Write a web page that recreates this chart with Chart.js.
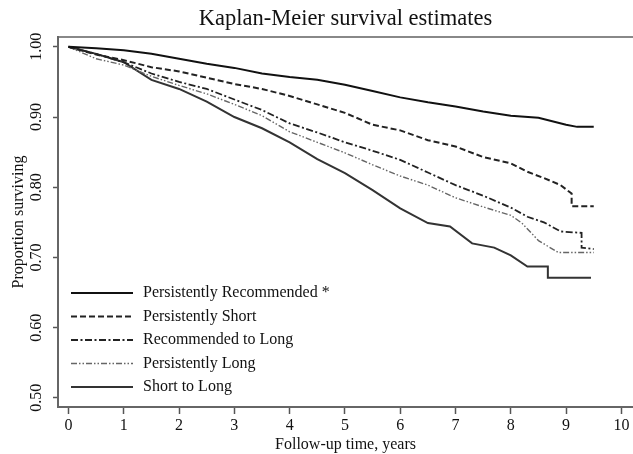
<!DOCTYPE html>
<html>
<head>
<meta charset="utf-8">
<script src="https://cdn.jsdelivr.net/npm/chart.js@4.4.1/dist/chart.umd.min.js"></script>
<style>
  body { margin: 0; background: #fff; }
  #wrap { width: 633px; height: 454px; }
</style>
</head>
<body>
<div id="wrap"><canvas id="km"></canvas></div>
<script>
// series labels
const seriesNames = ['Persistently Recommended *', 'Persistently Short', 'Recommended to Long', 'Persistently Long', 'Short to Long'];

// follow-up times (years) and survival
const recTime  = [0, 0.5, 1, 1.5, 2, 2.5, 3, 3.5, 4, 4.5, 5, 5.5, 6, 6.5, 7, 7.5, 8, 8.5, 9, 9.2, 9.5];
const recSurv  = [1, 0.998, 0.995, 0.99, 0.983, 0.976, 0.97, 0.962, 0.957, 0.953, 0.946, 0.937, 0.928, 0.921, 0.915, 0.908, 0.902, 0.899, 0.889, 0.886, 0.886];

const shortTime = [0, 0.5, 1, 1.5, 2, 2.5, 3, 3.5, 4, 4.5, 5, 5.5, 6, 6.5, 7, 7.5, 8, 8.3, 8.6, 8.9, 9.1, 9.1, 9.5];
const shortSurv = [1, 0.989, 0.981, 0.971, 0.965, 0.956, 0.947, 0.94, 0.93, 0.918, 0.906, 0.889, 0.881, 0.867, 0.858, 0.843, 0.834, 0.822, 0.813, 0.803, 0.791, 0.773, 0.773];

const recLongTime = [0, 0.5, 1, 1.5, 2, 2.5, 3, 3.5, 4, 4.5, 5, 5.5, 6, 6.5, 7, 7.5, 8, 8.3, 8.6, 8.9, 9.28, 9.28, 9.5];
const recLongSurv = [1, 0.99, 0.978, 0.962, 0.95, 0.94, 0.925, 0.91, 0.891, 0.878, 0.864, 0.852, 0.839, 0.821, 0.803, 0.788, 0.771, 0.758, 0.75, 0.737, 0.735, 0.714, 0.712];

const longTime = [0, 0.5, 1, 1.5, 2, 2.5, 3, 3.5, 4, 4.5, 5, 5.5, 6, 6.5, 7, 7.5, 8, 8.2, 8.5, 8.86, 9.5];
const longSurv = [1, 0.983, 0.974, 0.958, 0.945, 0.933, 0.918, 0.902, 0.879, 0.864, 0.849, 0.832, 0.816, 0.803, 0.785, 0.772, 0.76, 0.749, 0.724, 0.707, 0.707];

const s2lTime = [0, 0.5, 1, 1.5, 2, 2.5, 3, 3.5, 4, 4.5, 5, 5.5, 6, 6.5, 6.9, 7.3, 7.7, 8.0, 8.3, 8.67, 8.67, 9.45];
const s2lSurv = [1, 0.99, 0.978, 0.953, 0.94, 0.922, 0.9, 0.884, 0.864, 0.84, 0.82, 0.796, 0.77, 0.749, 0.744, 0.72, 0.714, 0.703, 0.687, 0.687, 0.671, 0.671];

const xTicks = [0, 1, 2, 3, 4, 5, 6, 7, 8, 9, 10];
const yTicks = [0.5, 0.6, 0.7, 0.8, 0.9, 1.0];

function pts(t, s) { return t.map((v, i) => ({ x: v, y: s[i] })); }

const serif = 'Liberation Serif, Times New Roman, serif';

const datasets = [
  { label: seriesNames[0], data: pts(recTime, recSurv), borderColor: '#111', borderWidth: 2, borderDash: [] },
  { label: seriesNames[1], data: pts(shortTime, shortSurv), borderColor: '#222', borderWidth: 2, borderDash: [6, 3] },
  { label: seriesNames[2], data: pts(recLongTime, recLongSurv), borderColor: '#222', borderWidth: 1.8, borderDash: [7, 2.5, 2, 2.5] },
  { label: seriesNames[3], data: pts(longTime, longSurv), borderColor: '#666', borderWidth: 1.4, borderDash: [6, 2, 1.5, 2, 1.5, 2] },
  { label: seriesNames[4], data: pts(s2lTime, s2lSurv), borderColor: '#333', borderWidth: 2, borderDash: [] }
];
datasets.forEach(d => { d.pointRadius = 0; d.tension = 0; d.fill = false; });

// legend drawn inside the plot area, bottom left
const insideLegend = {
  id: 'insideLegend',
  afterDatasetsDraw(chart) {
    const ctx = chart.ctx, a = chart.chartArea;
    ctx.save();
    chart.data.datasets.forEach((d, i) => {
      const y = a.bottom - 114 + i * 23.5;
      ctx.beginPath();
      ctx.strokeStyle = d.borderColor;
      ctx.lineWidth = d.borderWidth;
      ctx.setLineDash(d.borderDash);
      ctx.moveTo(a.left + 13, y);
      ctx.lineTo(a.left + 75, y);
      ctx.stroke();
      ctx.setLineDash([]);
      ctx.fillStyle = '#111';
      ctx.font = '16px ' + serif;
      ctx.textBaseline = 'middle';
      ctx.fillText(d.label, a.left + 85, y);
    });
    ctx.restore();
  }
};

new Chart(document.getElementById('km'), {
  type: 'line',
  data: { datasets },
  plugins: [insideLegend],
  options: {
    responsive: true,
    maintainAspectRatio: false,
    animation: false,
    layout: { padding: 0 },
    plugins: {
      legend: { display: false },
      tooltip: { enabled: false },
      title: {
        display: true,
        text: 'Kaplan-Meier survival estimates',
        fullSize: false,
        color: '#111',
        font: { family: serif, size: 22.5, weight: 'normal' },
        padding: { top: 6, bottom: 4 }
      }
    },
    scales: {
      x: {
        type: 'linear',
        min: -0.19,
        max: 10.21,
        afterBuildTicks: s => { s.ticks = xTicks.map(v => ({ value: v })); },
        afterFit: s => { s.height = 47; },
        ticks: { color: '#111', font: { family: serif, size: 16 }, padding: 2, maxRotation: 0 },
        grid: { drawOnChartArea: false, tickLength: 7, tickColor: '#555', tickWidth: 1.5 },
        border: { color: '#666', width: 2 },
        title: { display: true, text: 'Follow-up time, years', color: '#111', font: { family: serif, size: 16 }, padding: { top: 0, bottom: 0 } }
      },
      xTop: {
        type: 'linear',
        position: 'top',
        min: -0.19,
        max: 10.21,
        afterFit: s => { s.height = 0; },
        ticks: { display: false },
        grid: { display: false, drawTicks: false },
        border: { display: true, color: '#888', width: 2 }
      },
      y: {
        min: 0.487,
        max: 1.014,
        afterBuildTicks: s => { s.ticks = yTicks.map(v => ({ value: v })); },
        afterFit: s => { s.width = 58; },
        ticks: {
          color: '#111',
          font: { family: serif, size: 16 },
          minRotation: 90,
          maxRotation: 90,
          crossAlign: 'center',
          padding: 2,
          callback: v => v.toFixed(2)
        },
        grid: { drawOnChartArea: false, tickLength: 5, tickColor: '#555', tickWidth: 1.5 },
        border: { color: '#666', width: 2 },
        title: { display: true, text: 'Proportion surviving', color: '#111', font: { family: serif, size: 16 }, padding: { top: 9, bottom: 0 } }
      }
    }
  }
});
</script>
</body>
</html>
